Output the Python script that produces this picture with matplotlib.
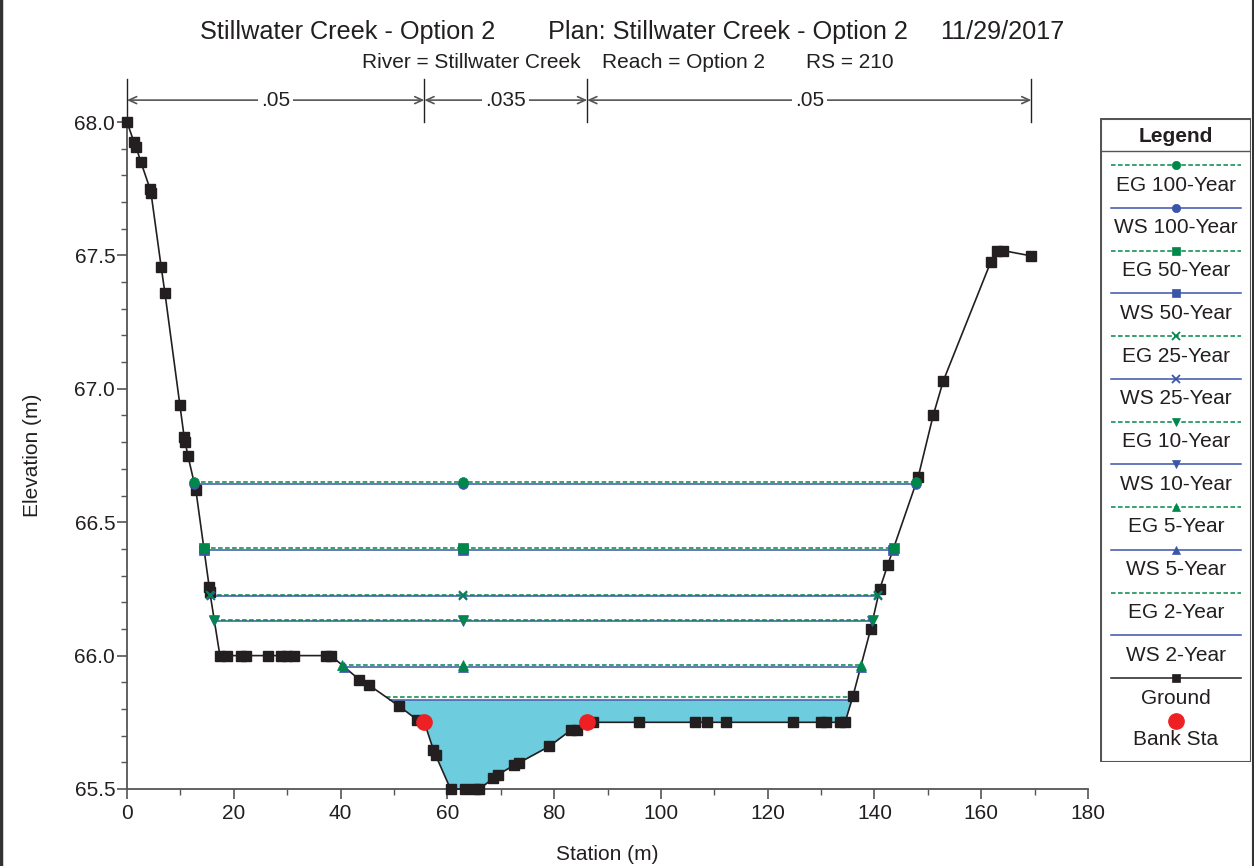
import numpy as np
import matplotlib
matplotlib.use("Agg")
import matplotlib.pyplot as plt
from matplotlib.ticker import MultipleLocator, FormatStrFormatter
from matplotlib.patches import Rectangle
from matplotlib.lines import Line2D

plt.rcParams['font.family'] = ['Liberation Sans', 'DejaVu Sans']

# ---- Cross-section ground points (station m, elevation m) ----
station = [0.0, 1.3, 1.7, 2.6, 4.3, 4.5, 6.4, 7.1, 9.9, 10.7, 10.9, 11.4, 12.9,
           15.4, 15.5, 17.4, 18.7, 21.4, 22.3, 26.4, 28.8, 30.0, 31.3, 37.3, 38.2,
           43.5, 45.3, 51.0, 54.3, 55.7, 57.4, 57.8, 60.6, 63.4, 65.2, 66.0,
           68.6, 69.4, 72.5, 73.5, 79.1, 83.1, 84.2, 86.2, 87.2, 95.9, 106.4,
           108.6, 112.2, 124.8, 130.0, 131.0, 133.5, 134.5, 136.0, 139.3, 141.0,
           142.5, 148.2, 151.0, 152.9, 161.8, 163.0, 164.1, 169.4]
elevation = [68.0, 67.925, 67.906, 67.85, 67.75, 67.734, 67.457, 67.36, 66.94,
             66.82, 66.80, 66.75, 66.62, 66.257, 66.24, 66.0, 66.0, 66.0, 66.0,
             66.0, 66.0, 66.0, 66.0, 66.0, 66.0, 65.91, 65.89, 65.81, 65.76,
             65.75, 65.646, 65.627, 65.5, 65.5, 65.5, 65.5, 65.54, 65.553,
             65.589, 65.599, 65.66, 65.72, 65.72, 65.75, 65.75, 65.75, 65.75,
             65.75, 65.75, 65.75, 65.75, 65.75, 65.75, 65.75, 65.85, 66.10,
             66.25, 66.34, 66.67, 66.90, 67.03, 67.476, 67.518, 67.518, 67.498]

# Bank stations
bank_sta = [55.7, 86.2]
bank_elev = [65.75, 65.75]

# Manning's n regions
n_breaks = [0.0, 55.7, 86.2, 169.4]
n_values = [".05", ".035", ".05"]

# ---- Profiles: energy grade (EG) and water surface (WS) elevations ----
profiles = ["100-Year", "50-Year", "25-Year", "10-Year", "5-Year", "2-Year"]
eg_elev = [66.650, 66.402, 66.228, 66.134, 65.966, 65.845]
ws_elev = [66.645, 66.397, 66.222, 66.129, 65.957, 65.834]
markers = ["o", "s", "x", "v", "^", None]
marker_station = 63.0

EG_COLOR = "#00884A"
WS_COLOR = "#3B55A8"
GROUND_COLOR = "#231F20"
BANK_COLOR = "#EE2024"
WATER_COLOR = "#6DCCDD"

sta = np.array(station)
elv = np.array(elevation)


def crossings(level):
    """Left and right stations where a level meets the ground."""
    i0 = int(np.argmin(elv))
    left = sta[0]
    for i in range(i0, 0, -1):
        if elv[i - 1] >= level:
            f = (level - elv[i]) / (elv[i - 1] - elv[i])
            left = sta[i] + f * (sta[i - 1] - sta[i])
            break
    right = sta[-1]
    for i in range(i0, len(sta) - 1):
        if elv[i + 1] >= level:
            f = (level - elv[i]) / (elv[i + 1] - elv[i])
            right = sta[i] + f * (sta[i + 1] - sta[i])
            break
    return left, right


W, H = 1254, 866
fig = plt.figure(figsize=(W / 100, H / 100), dpi=100)


def fx(px):
    return px / W


def fy(py):
    return 1 - py / H


ax = fig.add_axes([fx(127), fy(789), fx(1088) - fx(127), fy(122) - fy(789)])
ax.set_xlim(0, 180)
ax.set_ylim(65.5, 68.0)

# water fill for the lowest profile
ws2 = ws_elev[-1]
ax.fill_between(sta, elv, ws2, where=elv <= ws2, interpolate=True,
                color=WATER_COLOR, lw=0, zorder=1)

dash = (0, (3, 1.6))


def marker_kw(mk):
    if mk == "x":
        return dict(ms=6, mew=1.3)
    return dict(ms=7, mew=0.5)


for name, eg, ws, mk in zip(profiles, eg_elev, ws_elev, markers):
    for level, color, ls, z in ((ws, WS_COLOR, "-", 2), (eg, EG_COLOR, dash, 3)):
        x0, x1 = crossings(level)
        ax.plot([x0, x1], [level, level], color=color, ls=ls, lw=1.1, zorder=z)
        if mk is not None:
            ax.plot([x0, marker_station, x1], [level] * 3, ls="none", marker=mk,
                    color=color, zorder=z + 6, clip_on=False, **marker_kw(mk))

ax.plot(sta, elv, color=GROUND_COLOR, lw=1.2, marker="s", ms=7,
        mfc=GROUND_COLOR, mec=GROUND_COLOR, zorder=6, clip_on=False)
ax.plot(bank_sta, bank_elev, ls="none", marker="o", ms=11, color=BANK_COLOR,
        zorder=7, clip_on=False)

# Manning's n bracket above the section
y_arrow = 68.082
for xb in n_breaks:
    ax.plot([xb, xb], [68.0, 68.16], color="#222222", lw=1.0, clip_on=False, zorder=5)
for (xa, xb), lab in zip(zip(n_breaks[:-1], n_breaks[1:]), n_values):
    ax.annotate("", xy=(xb, y_arrow), xytext=(xa, y_arrow), annotation_clip=False,
                arrowprops=dict(arrowstyle="<->,head_length=0.55,head_width=0.25",
                                color="#555555", lw=1.2, shrinkA=0, shrinkB=0))
    ax.text((xa + xb) / 2, y_arrow, lab, ha="center", va="center", fontsize=15,
            color="#231F20", clip_on=False,
            bbox=dict(boxstyle="square,pad=0.15", fc="white", ec="none"))

# axes styling
for s in ("top", "right"):
    ax.spines[s].set_visible(False)
for s in ("left", "bottom"):
    ax.spines[s].set_color("#555555")
    ax.spines[s].set_linewidth(1.3)
ax.xaxis.set_major_locator(MultipleLocator(20))
ax.xaxis.set_minor_locator(MultipleLocator(10))
ax.yaxis.set_major_locator(MultipleLocator(0.5))
ax.yaxis.set_minor_locator(MultipleLocator(0.1))
ax.yaxis.set_major_formatter(FormatStrFormatter("%.1f"))
ax.tick_params(which="major", direction="out", length=7, width=1.2,
               color="#555555", labelsize=15, labelcolor="#231F20", pad=4)
ax.tick_params(axis="y", which="major", pad=1.5)
ax.tick_params(which="minor", direction="out", length=4, width=1.0, color="#555555")
ax.patch.set_alpha(0)

# titles and axis labels
title_parts = [("Stillwater Creek - Option 2", 200),
               ("Plan: Stillwater Creek - Option 2", 548),
               ("11/29/2017", 940)]
for txt, px in title_parts:
    fig.text(fx(px), fy(32), txt, ha="left", va="center", fontsize=18.2, color="#231F20")
sub_parts = [("River = Stillwater Creek", 362), ("Reach = Option 2", 602), ("RS = 210", 806)]
for txt, px in sub_parts:
    fig.text(fx(px), fy(63), txt, ha="left", va="center", fontsize=15, color="#231F20")
fig.text(fx(607), fy(855), "Station (m)", ha="center", va="center", fontsize=15,
         color="#231F20")
fig.text(fx(32), fy(455), "Elevation (m)", ha="center", va="center", fontsize=15,
         rotation=90, color="#231F20")

# legend panel
lg = fig.add_axes([fx(1100), fy(762), fx(1251) - fx(1100), fy(118) - fy(762)])
lg.set_xlim(0, 151)
lg.set_ylim(644, 0)
lg.axis("off")
lg.add_patch(Rectangle((0.5, 0.5), 150, 643, fill=False, ec="#555555", lw=1.5))
lg.plot([0.5, 150.5], [33, 33], color="#555555", lw=1.0)
lg.text(75.5, 18, "Legend", ha="center", va="center", fontsize=15,
        fontweight="bold", color="#231F20")

entries = []
for name, mk in zip(profiles, markers):
    entries.append(("EG " + name, EG_COLOR, dash, mk))
    entries.append(("WS " + name, WS_COLOR, "-", mk))
entries.append(("Ground", GROUND_COLOR, "-", "s"))

y0, step = 165 - 118, 42.75
for k, (lab, col, ls, mk) in enumerate(entries):
    y = y0 + k * step
    lg.plot([11, 141], [y, y], color=col, ls=ls, lw=1.1)
    if mk is not None:
        lg.plot([76], [y], marker=mk, color=col, ms=6,
                mew=1.3 if mk == "x" else 0.5)
    lg.text(76, y + 20, lab, ha="center", va="center", fontsize=15, color="#231F20")
yb = y0 + len(entries) * step
lg.plot([76], [yb], marker="o", ms=11, color=BANK_COLOR, ls="none")
lg.text(76, yb + 19, "Bank Sta", ha="center", va="center", fontsize=15, color="#231F20")

# outer frame
fig.add_artist(Line2D([fx(1), fx(1)], [0, 1], color="#333333", lw=2.5))
fig.add_artist(Line2D([fx(1252.5), fx(1252.5)], [0, 1], color="#333333", lw=1.5))

fig.savefig("out.png", dpi=100)
